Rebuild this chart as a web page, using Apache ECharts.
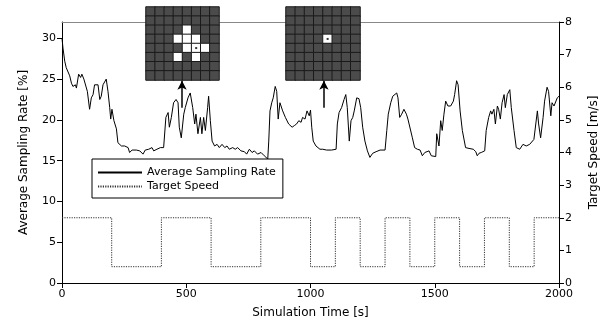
<!DOCTYPE html>
<html>
<head>
<meta charset="utf-8">
<script src="https://cdn.jsdelivr.net/npm/echarts@6/dist/echarts.min.js"></script>
<style>
  html, body { margin: 0; padding: 0; background: #fff; }
  #chart { width: 608px; height: 329px; }
</style>
</head>
<body>
<div id="chart"></div>
<script>
// Average sampling rate [%]
const rateTimes = [0, 4, 11, 17, 31, 38, 44, 54, 58, 67, 75, 80, 88, 94, 102, 111, 118, 125, 131, 138, 145, 152, 158, 165, 172, 178, 185, 192, 196, 201, 209, 219, 225, 239, 252, 259, 266, 272, 282, 299, 313, 319, 326, 335, 349, 362, 369, 382, 396, 402, 409, 418, 427, 432, 440, 449, 459, 467, 472, 480, 490, 496, 507, 516, 526, 534, 539, 547, 557, 563, 570, 577, 586, 590, 597, 604, 614, 624, 633, 644, 655, 664, 673, 687, 697, 707, 720, 734, 743, 754, 765, 774, 787, 801, 814, 828, 832, 837, 844, 850, 858, 864, 870, 877, 888, 899, 912, 926, 935, 944, 953, 962, 968, 978, 986, 995, 1000, 1005, 1011, 1022, 1038, 1049, 1065, 1085, 1103, 1108, 1115, 1125, 1135, 1142, 1148, 1156, 1163, 1170, 1176, 1186, 1195, 1202, 1210, 1219, 1229, 1239, 1250, 1264, 1280, 1300, 1307, 1313, 1323, 1331, 1338, 1347, 1352, 1359, 1367, 1376, 1386, 1392, 1400, 1410, 1419, 1430, 1441, 1450, 1460, 1477, 1486, 1494, 1504, 1508, 1517, 1524, 1530, 1537, 1544, 1553, 1564, 1575, 1580, 1588, 1594, 1602, 1611, 1624, 1638, 1655, 1665, 1671, 1678, 1687, 1701, 1707, 1717, 1725, 1730, 1738, 1744, 1752, 1757, 1764, 1771, 1779, 1784, 1792, 1802, 1808, 1819, 1828, 1842, 1855, 1868, 1882, 1889, 1899, 1905, 1913, 1918, 1926, 1936, 1942, 1952, 1958, 1967, 1972, 1980, 1987, 1993, 2000];
const rateValues = [30.0, 28.8, 27.2, 26.4, 25.4, 24.5, 24.1, 24.3, 23.9, 25.6, 25.2, 25.6, 25.0, 25.2, 23.5, 21.3, 22.7, 23.1, 24.3, 24.1, 24.3, 22.5, 22.9, 24.3, 24.1, 25.0, 23.5, 21.5, 20.1, 21.3, 19.9, 18.9, 17.2, 16.8, 16.8, 16.6, 16.6, 16.0, 16.3, 16.3, 16.2, 16.3, 15.8, 16.3, 16.4, 16.6, 16.2, 16.4, 16.6, 16.4, 16.6, 20.3, 20.9, 19.1, 20.3, 22.1, 22.5, 22.1, 19.1, 17.8, 20.7, 21.5, 22.7, 23.3, 21.5, 19.5, 20.7, 18.3, 20.3, 18.3, 20.3, 18.7, 21.5, 22.9, 19.9, 17.4, 16.8, 17.0, 16.6, 17.0, 16.6, 16.8, 16.4, 16.6, 16.4, 16.6, 16.2, 16.1, 15.8, 16.4, 16.0, 16.2, 15.8, 16.0, 15.6, 15.2, 17.4, 21.1, 22.1, 22.7, 24.1, 23.5, 20.1, 22.1, 21.1, 20.3, 19.5, 19.1, 19.3, 19.5, 19.9, 19.7, 20.3, 20.1, 21.1, 20.5, 21.2, 19.1, 17.4, 16.8, 16.4, 16.4, 16.3, 16.3, 16.4, 19.5, 20.9, 21.5, 22.5, 23.1, 21.5, 17.4, 19.9, 20.3, 21.1, 22.7, 22.6, 21.5, 19.1, 17.4, 16.2, 15.4, 15.9, 16.1, 16.3, 16.3, 18.7, 20.7, 22.1, 22.9, 23.0, 23.3, 22.7, 20.3, 20.7, 21.3, 20.7, 20.1, 20.1, 17.8, 16.6, 16.4, 16.3, 15.6, 16.0, 16.2, 15.6, 15.8, 15.5, 18.3, 16.8, 19.9, 18.7, 20.7, 22.3, 21.7, 21.7, 22.3, 23.1, 24.8, 24.3, 21.1, 18.7, 16.6, 16.5, 16.4, 16.1, 15.6, 15.9, 16.0, 16.2, 18.7, 20.3, 21.1, 20.7, 21.3, 19.5, 21.7, 21.3, 20.1, 22.1, 23.1, 21.5, 23.1, 23.7, 21.5, 18.7, 16.6, 16.4, 17.0, 16.8, 17.0, 16.8, 17.6, 17.8, 21.1, 19.5, 17.8, 20.3, 22.3, 24.0, 23.5, 20.5, 22.1, 21.7, 21.5, 22.7, 22.9];

// Target speed [m/s], held until the next switch time
const speedTimes = [0, 200, 400, 600, 800, 1000, 1100, 1200, 1300, 1400, 1500, 1600, 1700, 1800, 1900, 2000];
const speedValues = [2, 0.5, 2, 0.5, 2, 0.5, 2, 0.5, 2, 0.5, 2, 0.5, 2, 0.5, 2, 2];

// Arrows pointing from the curve up to the snapshot grids
const arrowTimes = [483, 1054];
const arrowFrom = 21.5;
const arrowTo = 24.8;

// 8x8 snapshot grids: white cells [col, row] and robot position
const gridSize = 8;
const inset1White = [[4, 2], [3, 3], [4, 3], [5, 3], [4, 4], [5, 4], [6, 4], [3, 5], [5, 5]];
const inset1Robot = [5, 4];
const inset2White = [[4, 3]];
const inset2Robot = [4, 3];

// tick positions
const rateTicks = [0, 5, 10, 15, 20, 25, 30];
const speedTicks = [0, 1, 2, 3, 4, 5, 6, 7, 8];
const timeTicks = [0, 500, 1000, 1500, 2000];

const FONT = 'DejaVu Sans';

function cells(white) {
  const out = [];
  for (let c = 0; c < gridSize; c++) {
    for (let r = 0; r < gridSize; r++) {
      const on = white.some(w => w[0] === c && w[1] === r);
      out.push([c, r, on ? 1 : 0]);
    }
  }
  return out;
}

const idx = Array.from({ length: gridSize }, (_, i) => String(i));

const chart = echarts.init(document.getElementById('chart'));

const insetAxis = {
  type: 'category',
  data: idx,
  show: false
};

const plain = v => String(v);

const option = {
  animation: false,
  backgroundColor: '#fff',
  textStyle: { fontFamily: FONT },
  grid: [
    { left: 62, right: 49, top: 22, bottom: 46 },
    { left: 146, top: 7, width: 73, height: 73, z: 10 },
    { left: 286, top: 7, width: 74, height: 73, z: 10 }
  ],
  legend: {
    orient: 'vertical',
    left: 92,
    top: 159,
    padding: [8, 7, 6, 5],
    itemGap: 3,
    itemWidth: 44,
    itemHeight: 10,
    borderColor: '#000',
    borderWidth: 1,
    borderRadius: 0,
    backgroundColor: '#fff',
    itemStyle: { opacity: 0 },
    textStyle: { fontSize: 11, color: '#000', fontFamily: FONT },
    data: ['Average Sampling Rate', 'Target Speed']
  },
  visualMap: {
    show: false,
    type: 'piecewise',
    seriesIndex: [2, 3],
    dimension: 2,
    pieces: [
      { value: 0, color: '#4b4b4b' },
      { value: 1, color: '#ffffff' }
    ]
  },
  xAxis: [
    {
      gridIndex: 0,
      type: 'value',
      min: 0,
      max: 2000,
      interval: 500,
      name: 'Simulation Time [s]',
      nameLocation: 'middle',
      nameGap: 24,
      nameTextStyle: { fontSize: 12, color: '#000' },
      axisLine: { onZero: false, lineStyle: { color: '#000' } },
      axisTick: { length: 5, lineStyle: { color: '#000' }, customValues: timeTicks },
      axisLabel: { fontSize: 11, color: '#000', margin: 6, formatter: plain, customValues: timeTicks },
      splitLine: { show: false }
    },
    {
      gridIndex: 0,
      type: 'value',
      position: 'top',
      min: 0,
      max: 2000,
      axisLine: { show: true, onZero: false, lineStyle: { color: '#888' } },
      axisTick: { show: false },
      axisLabel: { show: false },
      splitLine: { show: false }
    },
    Object.assign({ gridIndex: 1 }, insetAxis),
    Object.assign({ gridIndex: 2 }, insetAxis)
  ],
  yAxis: [
    {
      gridIndex: 0,
      type: 'value',
      position: 'left',
      min: 0,
      max: 32,
      interval: 5,
      name: 'Average Sampling Rate [%]',
      nameLocation: 'middle',
      nameGap: 32,
      nameTextStyle: { fontSize: 12, color: '#000' },
      axisLine: { show: true, onZero: false, lineStyle: { color: '#000' } },
      axisTick: { show: true, length: 5, lineStyle: { color: '#000' }, customValues: rateTicks },
      axisLabel: { fontSize: 11, color: '#000', margin: 6, formatter: plain, customValues: rateTicks },
      splitLine: { show: false }
    },
    {
      gridIndex: 0,
      type: 'value',
      position: 'right',
      min: 0,
      max: 8,
      interval: 1,
      name: 'Target Speed [m/s]',
      nameLocation: 'middle',
      nameGap: 29,
      nameTextStyle: { fontSize: 12, color: '#000' },
      axisLine: { show: true, onZero: false, lineStyle: { color: '#000' } },
      axisTick: { show: true, length: 5, lineStyle: { color: '#000' }, customValues: speedTicks },
      axisLabel: { fontSize: 11, color: '#000', margin: 6, formatter: plain, customValues: speedTicks },
      splitLine: { show: false }
    },
    Object.assign({ gridIndex: 1, inverse: true }, insetAxis),
    Object.assign({ gridIndex: 2, inverse: true }, insetAxis)
  ],
  series: [
    {
      name: 'Average Sampling Rate',
      type: 'line',
      xAxisIndex: 0,
      yAxisIndex: 0,
      symbol: 'none',
      showSymbol: false,
      lineStyle: { color: '#000', width: 1 },
      itemStyle: { color: '#000' },
      data: rateTimes.map((t, i) => [t, rateValues[i]]),
      markLine: {
        silent: true,
        symbol: ['none', 'arrow'],
        symbolSize: [7, 9],
        label: { show: false },
        lineStyle: { color: '#000', width: 1.5, type: 'solid' },
        data: arrowTimes.map(t => [
          { coord: [t, arrowFrom] },
          { coord: [t, arrowTo] }
        ])
      }
    },
    {
      name: 'Target Speed',
      type: 'line',
      xAxisIndex: 0,
      yAxisIndex: 1,
      step: 'end',
      symbol: 'none',
      showSymbol: false,
      lineStyle: { color: '#333', width: 1, type: [1.2, 1.2] },
      itemStyle: { color: '#333' },
      data: speedTimes.map((t, i) => [t, speedValues[i]])
    },
    {
      type: 'heatmap',
      xAxisIndex: 2,
      yAxisIndex: 2,
      z: 10,
      itemStyle: { borderColor: '#1a1a1a', borderWidth: 1 },
      data: cells(inset1White)
    },
    {
      type: 'heatmap',
      xAxisIndex: 3,
      yAxisIndex: 3,
      z: 10,
      itemStyle: { borderColor: '#1a1a1a', borderWidth: 1 },
      data: cells(inset2White)
    },
    {
      type: 'scatter',
      xAxisIndex: 2,
      yAxisIndex: 2,
      z: 11,
      symbol: 'rect',
      symbolSize: 2,
      itemStyle: { color: '#000' },
      data: [inset1Robot]
    },
    {
      type: 'scatter',
      xAxisIndex: 3,
      yAxisIndex: 3,
      z: 11,
      symbol: 'rect',
      symbolSize: 2,
      itemStyle: { color: '#000' },
      data: [inset2Robot]
    }
  ]
};

chart.setOption(option);
</script>
</body>
</html>
